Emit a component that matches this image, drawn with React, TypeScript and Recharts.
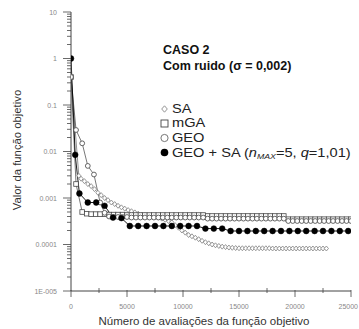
import { LineChart, Line, XAxis, YAxis } from "recharts";

// eixo Y (log) e eixo X
const Y_MAJOR = [0.00001, 0.0001, 0.001, 0.01, 0.1, 1, 10];
const Y_LABELS = ["1E-005", "0.0001", "0.001", "0.01", "0.1", "1", "10"];
const X_TICKS = [0, 2500, 5000, 7500, 10000, 12500, 15000, 17500, 20000, 22500, 25000];
const X_LABELS = ["0", "5000", "10000", "15000", "20000", "25000"];

// SA
const SA_EVALS = [
  0, 700, 900, 1200, 1500, 1800, 2100, 2400, 2700, 3000,
  3300, 3600, 3900, 4200, 4500, 4800, 5100, 5400, 5700, 6000,
  6300, 6600, 6900, 7200, 7500, 7800, 8100, 8400, 8700, 9000,
  9300, 9600, 9900, 10200, 10500, 10800, 11100, 11400, 11700, 12000,
  12300, 12600, 12900, 13200, 13500, 13800, 14100, 14400, 14700, 15000,
  15300, 15600, 15900, 16200, 16500, 16800, 17100, 17400, 17700, 18000,
  18300, 18600, 18900, 19200, 19500, 19800, 20100, 20400, 20700, 21000,
  21300, 21600, 21900, 22200, 22500, 22800,
];
const SA_VALUES = [
  0.4, 0.003, 0.0026, 0.0023, 0.002, 0.0018, 0.00155, 0.0013, 0.00115, 0.001,
  0.0009, 0.0008, 0.00074, 0.00068, 0.00063, 0.00059, 0.00055, 0.00052, 0.00049, 0.00046,
  0.00044, 0.00043, 0.00041, 0.0004, 0.00039, 0.00038, 0.00036, 0.00034, 0.00032, 0.0003,
  0.00026, 0.00023, 0.0002, 0.00018, 0.00016, 0.00015, 0.00014, 0.00013, 0.00012, 0.000112,
  0.000106, 0.0001, 0.000096, 0.000093, 0.00009, 0.000088, 0.000086, 0.000085, 0.000084, 0.000083,
  0.000083, 0.000083, 0.000083, 0.000083, 0.000083, 0.000083, 0.000083, 0.000083, 0.000083, 0.000082,
  0.000082, 0.000082, 0.000082, 0.000082, 0.000082, 0.000082, 0.000082, 0.000082, 0.000082, 0.000082,
  0.000082, 0.000082, 0.000082, 0.000082, 0.000082, 0.000082,
];

// mGA
const MGA_EVALS = [
  0, 450, 1000, 1400, 1800, 2200, 2600, 3000, 3400, 3800,
  4200, 4600, 5000, 5400, 5800, 6200, 6600, 7000, 7400, 7800,
  8200, 8600, 9000, 9400, 9800, 10200, 10600, 11000, 11400, 11800,
  12200, 12600, 13000, 13400, 13800, 14200, 14600, 15000, 15400, 15800,
  16200, 16600, 17000, 17400, 17800, 18200, 18600, 19000, 19400, 19800,
  20200, 20600, 21000, 21400, 21800, 22200, 22600, 23000, 23400, 23800,
  24200, 24600, 25000,
];
const MGA_VALUES = [
  0.4, 0.002, 0.0005, 0.00046, 0.00045, 0.00045, 0.00045, 0.00045, 0.00044, 0.00044,
  0.00044, 0.00044, 0.00043, 0.00043, 0.00043, 0.00043, 0.00043, 0.00043, 0.00043, 0.00043,
  0.00043, 0.00043, 0.00043, 0.00043, 0.00043, 0.00043, 0.00043, 0.00043, 0.00043, 0.00043,
  0.00041, 0.00041, 0.00041, 0.00041, 0.00041, 0.00041, 0.00041, 0.00041, 0.00041, 0.00041,
  0.00041, 0.00041, 0.00041, 0.00041, 0.00041, 0.00041, 0.00041, 0.00041, 0.00035, 0.00035,
  0.00035, 0.00035, 0.00035, 0.00035, 0.00035, 0.00035, 0.00035, 0.00035, 0.00035, 0.00035,
  0.00035, 0.00035, 0.00035,
];

// GEO
const GEO_EVALS = [
  0, 450, 1000, 1500, 2050, 2600, 3000, 3400, 3800, 4200,
  4600, 5000, 5400, 5800, 6200, 6600, 7000, 7400, 7800, 8200,
  8600, 9000, 9400, 9800, 10200, 10600, 11000, 11400, 11800, 12200,
  12600, 13000, 13400, 13800, 14200, 14600, 15000, 15400, 15800, 16200,
  16600, 17000, 17400, 17800, 18200, 18600, 19000, 19400, 19800, 20200,
  20600, 21000, 21400, 21800, 22200, 22600, 23000, 23400, 23800, 24200,
  24600, 25000,
];
const GEO_VALUES = [
  0.4, 0.029, 0.015, 0.0049, 0.0032, 0.0008, 0.00048, 0.0004, 0.00039, 0.00039,
  0.00039, 0.00039, 0.00038, 0.00038, 0.00038, 0.00038, 0.00038, 0.00038, 0.00038, 0.00038,
  0.00038, 0.00038, 0.00038, 0.00038, 0.00038, 0.00038, 0.00038, 0.00038, 0.00038, 0.00036,
  0.00036, 0.00036, 0.00036, 0.00036, 0.00036, 0.00036, 0.00036, 0.00036, 0.00036, 0.00036,
  0.00036, 0.00036, 0.00036, 0.00036, 0.00036, 0.00036, 0.00036, 0.00032, 0.00032, 0.00032,
  0.00032, 0.00032, 0.00032, 0.00032, 0.00032, 0.00032, 0.00032, 0.00032, 0.00032, 0.00032,
  0.00032, 0.00032,
];

// GEO + SA
const HYB_EVALS = [
  0, 375, 750, 1500, 2250, 3000, 3750, 4500, 5250, 6000,
  6750, 7500, 8250, 9000, 9750, 10500, 11250, 12000, 12750, 13500,
  14250, 15000, 15750, 16500, 17250, 18000, 18750, 19500, 20250, 21000,
  21750, 22500, 23250, 24000, 24750,
];
const HYB_VALUES = [
  1, 0.0085, 0.00125, 0.0008, 0.0008, 0.00068, 0.00038, 0.00037, 0.00025, 0.00025,
  0.00025, 0.00025, 0.00025, 0.00025, 0.00025, 0.00025, 0.00025, 0.00022, 0.00022, 0.00022,
  0.000195, 0.000195, 0.000195, 0.000195, 0.000195, 0.000195, 0.000195, 0.000195, 0.000195, 0.000195,
  0.000195, 0.000195, 0.000195, 0.000195, 0.000195,
];

const toRows = (xs: number[], vs: number[]) => xs.map((x, i) => ({ x, v: vs[i] }));
const saData = toRows(SA_EVALS, SA_VALUES);
const mgaData = toRows(MGA_EVALS, MGA_VALUES);
const geoData = toRows(GEO_EVALS, GEO_VALUES);
const hybData = toRows(HYB_EVALS, HYB_VALUES);

// ticks menores do eixo log (2..9 em cada década)
const Y_TICKS = Y_MAJOR.slice(0, -1)
  .flatMap((d) => [1, 2, 3, 4, 5, 6, 7, 8, 9].map((k) => k * d))
  .concat([10]);

const FONT = '"Liberation Sans", Arial, sans-serif';
const AXIS = "#444";

function YTick({ x, y, payload }: any) {
  const i = Y_MAJOR.findIndex((m) => Math.abs(payload.value - m) / m < 1e-6);
  if (i < 0) {
    return <line x1={x - 4} x2={x} y1={y} y2={y} stroke={AXIS} strokeWidth={0.8} />;
  }
  return (
    <g>
      <line x1={x - 8} x2={x} y1={y} y2={y} stroke={AXIS} strokeWidth={0.8} />
      <text x={x - 14} y={y + 2.5} textAnchor="end" fontSize={7} fill="#888" fontFamily={FONT}>
        {Y_LABELS[i]}
      </text>
    </g>
  );
}

function XTick({ x, y, payload }: any) {
  const major = payload.value % 5000 === 0;
  if (!major) {
    return <line x1={x} x2={x} y1={y - 3} y2={y + 2} stroke={AXIS} strokeWidth={0.8} />;
  }
  const last = payload.value === 25000;
  return (
    <g>
      <line x1={x} x2={x} y1={y - 1} y2={y + 6} stroke={AXIS} strokeWidth={0.8} />
      <text
        x={last ? x + 7 : x}
        y={y + 18}
        textAnchor={last ? "end" : "middle"}
        fontSize={7}
        fill="#888"
        fontFamily={FONT}
      >
        {X_LABELS[payload.value / 5000]}
      </text>
    </g>
  );
}

const diamond = (p: any) => (
  <path
    key={`sa-${p.index}`}
    d={`M${p.cx},${p.cy - 2.5}L${p.cx + 2.1},${p.cy}L${p.cx},${p.cy + 2.5}L${p.cx - 2.1},${p.cy}Z`}
    fill="#fff"
    stroke="#808080"
    strokeWidth={0.8}
  />
);
const square = (p: any) => (
  <rect
    key={`mga-${p.index}`}
    x={p.cx - 2.3}
    y={p.cy - 2.3}
    width={4.6}
    height={4.6}
    fill="#fff"
    stroke="#444"
    strokeWidth={0.8}
  />
);
const circle = (p: any) => (
  <circle key={`geo-${p.index}`} cx={p.cx} cy={p.cy} r={2.4} fill="#fff" stroke="#555" strokeWidth={0.9} />
);
const blackDot = (p: any) => (
  <circle key={`hyb-${p.index}`} cx={p.cx} cy={p.cy} r={2.9} fill="#000" stroke="#000" strokeWidth={0.5} />
);

export default function App() {
  return (
    <div style={{ position: "absolute", left: 0, top: 0, width: 359, height: 329, background: "#fff" }}>
      <LineChart width={359} height={329} margin={{ top: 12, right: 8, left: 0, bottom: 0 }}>
        <XAxis
          dataKey="x"
          type="number"
          domain={[0, 25000]}
          ticks={X_TICKS}
          interval={0}
          tick={<XTick />}
          tickLine={false}
          tickSize={0}
          tickMargin={0}
          height={38}
          axisLine={{ stroke: AXIS, strokeWidth: 1 }}
          allowDataOverflow
        />
        <YAxis
          type="number"
          scale="log"
          domain={[0.00001, 10]}
          ticks={Y_TICKS}
          interval={0}
          tick={<YTick />}
          tickLine={false}
          tickSize={0}
          tickMargin={0}
          width={71}
          axisLine={{ stroke: AXIS, strokeWidth: 1 }}
          allowDataOverflow
        />
        <Line data={saData} dataKey="v" stroke="#777" strokeWidth={0.8} dot={diamond} isAnimationActive={false} />
        <Line data={mgaData} dataKey="v" stroke="#555" strokeWidth={0.8} dot={square} isAnimationActive={false} />
        <Line data={geoData} dataKey="v" stroke="#555" strokeWidth={0.8} dot={circle} isAnimationActive={false} />
        <Line data={hybData} dataKey="v" stroke="#000" strokeWidth={0.9} dot={blackDot} isAnimationActive={false} />
      </LineChart>

      {/* título, legenda e rótulos dos eixos */}
      <svg
        width={359}
        height={329}
        style={{ position: "absolute", left: 0, top: 0, pointerEvents: "none" }}
        fontFamily={FONT}
      >
        <text x={163} y={54} fontSize={12.5} fontWeight="bold" fill="#111">CASO 2</text>
        <text x={163} y={70} fontSize={12.5} fontWeight="bold" fill="#111">Com ruido (σ = 0,002)</text>

        <path d="M164.5,105.8L167.3,109L164.5,112.2L161.7,109Z" fill="#fff" stroke="#888" strokeWidth={0.9} />
        <rect x={161} y={120} width={7} height={7} fill="#fff" stroke="#444" strokeWidth={0.9} />
        <circle cx={164.5} cy={138} r={3.6} fill="#fff" stroke="#666" strokeWidth={0.9} />
        <circle cx={164.5} cy={152.5} r={3.8} fill="#000" />

        <g transform="translate(172,0) scale(1.17,1)" fontSize={12.5} fill="#222">
          <text x={0} y={113}>SA</text>
          <text x={0} y={127.5}>mGA</text>
          <text x={0} y={142}>GEO</text>
          <text x={0} y={157}>
            GEO + SA (<tspan fontStyle="italic">n</tspan>
            <tspan fontStyle="italic" fontSize={7.5} dy={2}>MAX</tspan>
            <tspan dy={-2}>=5, </tspan>
            <tspan fontStyle="italic">q</tspan>=1,01)
          </text>
        </g>

        <text x={204} y={325} textAnchor="middle" fontSize={11.5} fill="#333">
          Número de avaliações da função objetivo
        </text>
        <text transform="translate(21,150) rotate(-90)" textAnchor="middle" fontSize={11.3} fill="#333">
          Valor da função objetivo
        </text>
      </svg>
    </div>
  );
}
